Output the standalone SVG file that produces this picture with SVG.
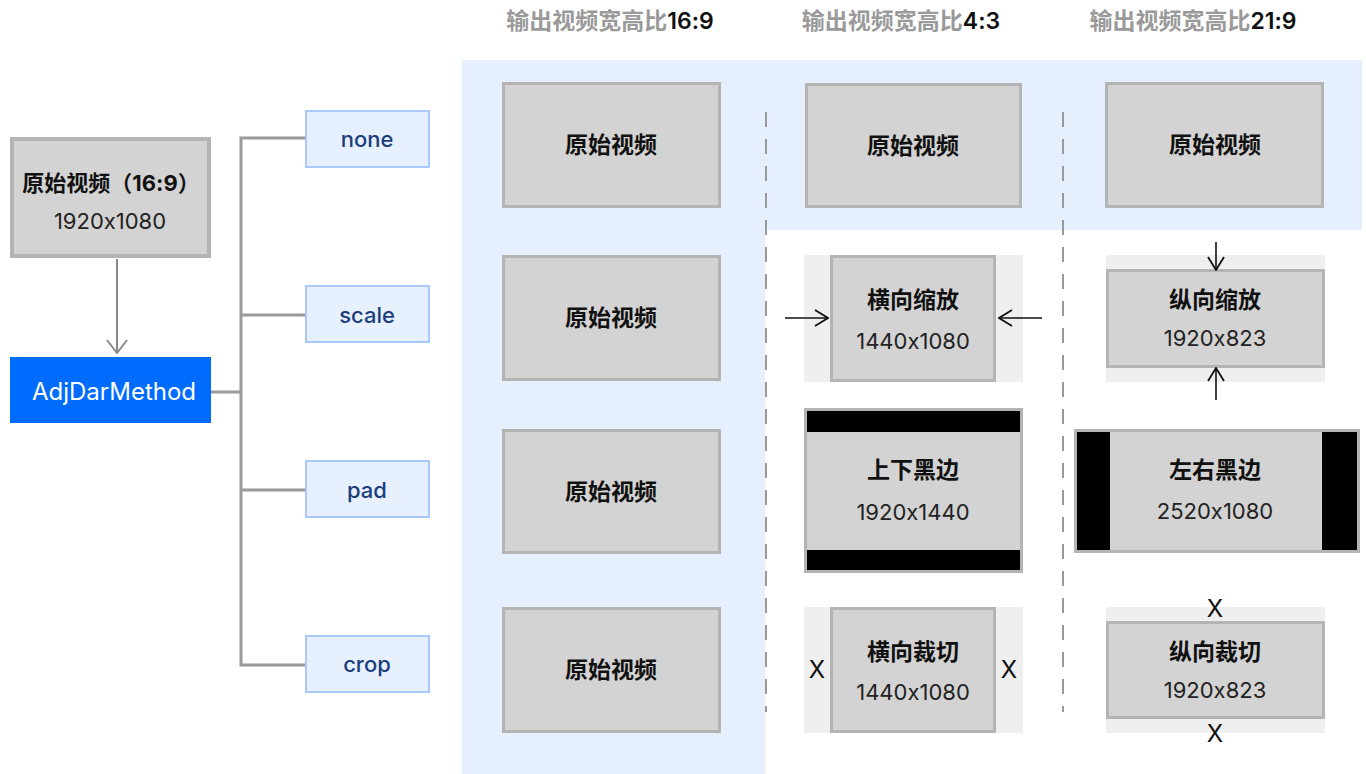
<svg xmlns="http://www.w3.org/2000/svg" width="1366" height="774" viewBox="0 0 1366 774">
<defs>
<style>
.t{font-family:Inter,"Noto Sans CJK SC",sans-serif;text-anchor:middle;font-feature-settings:"calt" 0;font-variant-ligatures:no-contextual}
.hd{font-size:23px;font-weight:600;fill:#9a9a9a}
.hd tspan.n{fill:#111}
.box{fill:#d3d3d3;stroke:#b4b4b4;stroke-width:3}
.bg{fill:#efefef}
.lab{font-size:23px;font-weight:700;fill:#111}
.dim{font-size:22px;font-weight:400;fill:#222}
.m{fill:#e6f0ff;stroke:#a9c9fb;stroke-width:2}
.mt{font-size:22px;font-weight:500;fill:#1c3d7c}
.tree{fill:none;stroke:#9a9a9a;stroke-width:3}
.dash{stroke:#999;stroke-width:2;stroke-dasharray:15 12}
.arr{stroke:#111;stroke-width:1.6;fill:none}
.x{font-size:24px;font-weight:400;fill:#111}
</style>
<marker id="ah" viewBox="0 0 16 20" refX="15" refY="10" markerWidth="16" markerHeight="20" markerUnits="userSpaceOnUse" orient="auto">
<path d="M2,2 L15,10 L2,18" fill="none" stroke="#111" stroke-width="1.8"/>
</marker>
<marker id="ahg" viewBox="0 0 16 24" refX="15" refY="12" markerWidth="16" markerHeight="24" markerUnits="userSpaceOnUse" orient="auto">
<path d="M2,2 L15,12 L2,22" fill="none" stroke="#8a8a8a" stroke-width="2"/>
</marker>
</defs>
<rect width="1366" height="774" fill="#fff"/>

<!-- backgrounds -->
<g id="backgrounds">
<rect x="462" y="60" width="303" height="714" fill="#e6effd"/>
<rect x="765" y="60" width="597" height="170" fill="#e6effd"/>
<line class="dash" x1="766" y1="112" x2="766" y2="712"/>
<line class="dash" x1="1063" y1="112" x2="1063" y2="712"/>
</g>

<!-- headers -->
<g id="headers">
<text class="t hd" x="610" y="29">输出视频宽高比<tspan class="n">16:9</tspan></text>
<text class="t hd" x="901" y="29">输出视频宽高比<tspan class="n">4:3</tspan></text>
<text class="t hd" x="1193" y="29">输出视频宽高比<tspan class="n">21:9</tspan></text>
</g>

<!-- source node -->
<g id="source">
<rect x="12" y="139" width="197" height="117" fill="#d3d3d3" stroke="#b4b4b4" stroke-width="4"/>
<text class="t lab" x="111" y="191" style="font-size:22px">原始视频（16:9）</text>
<text class="t dim" x="110" y="229">1920x1080</text>
</g>

<g id="adjdar">
<rect x="10" y="357" width="201" height="66" fill="#006cff"/>
<text class="t" x="114" y="400" style="font-size:24px;fill:#fff;font-weight:400">AdjDarMethod</text>
</g>

<g id="m-none"><rect class="m" x="306" y="111" width="123" height="56"/><text class="t mt" x="367" y="147">none</text></g>
<g id="m-scale"><rect class="m" x="306" y="286" width="123" height="56"/><text class="t mt" x="367" y="323">scale</text></g>
<g id="m-pad"><rect class="m" x="306" y="461" width="123" height="56"/><text class="t mt" x="367" y="498">pad</text></g>
<g id="m-crop"><rect class="m" x="306" y="636" width="123" height="56"/><text class="t mt" x="367" y="672">crop</text></g>

<!-- 16:9 column -->
<g id="c1-none"><rect class="box" x="503.5" y="83.5" width="216" height="123"/><text class="t lab" x="611" y="153">原始视频</text></g>
<g id="c1-scale"><rect class="box" x="503.5" y="256.5" width="216" height="123"/><text class="t lab" x="611" y="326">原始视频</text></g>
<g id="c1-pad"><rect class="box" x="503.5" y="430.5" width="216" height="122"/><text class="t lab" x="611" y="500">原始视频</text></g>
<g id="c1-crop"><rect class="box" x="503.5" y="608.5" width="216" height="123"/><text class="t lab" x="611" y="678">原始视频</text></g>

<!-- 4:3 column -->
<g id="c2-none"><rect class="box" x="806.5" y="84.5" width="214" height="122"/><text class="t lab" x="913" y="154">原始视频</text></g>
<g id="c2-scale">
<rect class="bg" x="804" y="255" width="219" height="127"/>
<rect class="box" x="831.5" y="256.5" width="163" height="124"/>
<text class="t lab" x="913" y="308">横向缩放</text>
<text class="t dim" x="913" y="349">1440x1080</text>
</g>
<g id="c2-pad">
<rect class="box" x="805.5" y="409.5" width="216" height="162"/>
<rect x="807" y="411" width="213" height="21" fill="#000"/>
<rect x="807" y="550" width="213" height="20" fill="#000"/>
<text class="t lab" x="913" y="478">上下黑边</text>
<text class="t dim" x="913" y="520">1920x1440</text>
</g>
<g id="c2-crop">
<rect class="bg" x="804" y="607" width="219" height="126"/>
<rect class="box" x="831.5" y="608.5" width="163" height="123"/>
<text class="t lab" x="913" y="660">横向裁切</text>
<text class="t dim" x="913" y="700">1440x1080</text>
<text class="t x" x="817" y="678">X</text>
<text class="t x" x="1009" y="678">X</text>
</g>

<!-- 21:9 column -->
<g id="c3-none"><rect class="box" x="1106.5" y="83.5" width="216" height="123"/><text class="t lab" x="1215" y="153">原始视频</text></g>
<g id="c3-scale">
<rect class="bg" x="1106" y="255" width="219" height="127"/>
<rect class="box" x="1107.5" y="270.5" width="216" height="96"/>
<text class="t lab" x="1215" y="308">纵向缩放</text>
<text class="t dim" x="1215" y="346">1920x823</text>
</g>
<g id="c3-pad">
<rect class="box" x="1075.5" y="430.5" width="283" height="121"/>
<rect x="1077" y="432" width="33" height="118" fill="#000"/>
<rect x="1322" y="432" width="35" height="118" fill="#000"/>
<text class="t lab" x="1215" y="478">左右黑边</text>
<text class="t dim" x="1215" y="519">2520x1080</text>
</g>
<g id="c3-crop">
<rect class="bg" x="1106" y="607" width="219" height="126"/>
<rect class="box" x="1107.5" y="622.5" width="216" height="95"/>
<text class="t lab" x="1215" y="660">纵向裁切</text>
<text class="t dim" x="1215" y="698">1920x823</text>
<text class="t x" x="1215" y="617">X</text>
<text class="t x" x="1215" y="742">X</text>
</g>

<!-- connectors -->
<g id="connectors">
<line x1="117" y1="259" x2="117" y2="353" stroke="#8a8a8a" stroke-width="2" marker-end="url(#ahg)"/>
<path class="tree" d="M211,392 H241 M305,138 H241 V665 H305 M241,315 H305 M241,490 H305"/>
<line class="arr" x1="785" y1="318" x2="828" y2="318" marker-end="url(#ah)"/>
<line class="arr" x1="1042" y1="318" x2="999" y2="318" marker-end="url(#ah)"/>
<line class="arr" x1="1216" y1="242" x2="1216" y2="270" marker-end="url(#ah)"/>
<line class="arr" x1="1216" y1="400" x2="1216" y2="368" marker-end="url(#ah)"/>
</g>
</svg>
